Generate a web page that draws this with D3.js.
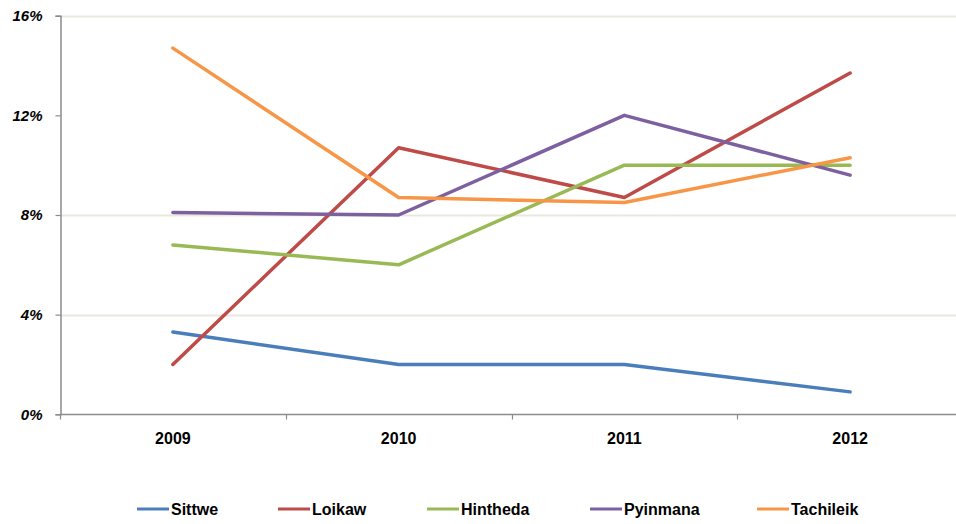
<!DOCTYPE html>
<html>
<head>
<meta charset="utf-8">
<script src="https://cdn.jsdelivr.net/npm/d3@7/dist/d3.min.js"></script>
<style>
  html, body { margin: 0; padding: 0; background: #fff; }
  svg { display: block; }
  text { font-family: "Liberation Sans", Arial, sans-serif; font-weight: bold; fill: #000; }
</style>
</head>
<body>
<svg id="chart" width="956" height="524"></svg>
<script>
// Years on the category axis
const years = ["2009", "2010", "2011", "2012"];

// Share per city, in percent
const sittwe    = [3.3, 2.0, 2.0, 0.9];
const loikaw    = [2.0, 10.7, 8.7, 13.7];
const hintheda  = [6.8, 6.0, 10.0, 10.0];
const pyinmana  = [8.1, 8.0, 12.0, 9.6];
const tachileik = [14.7, 8.7, 8.5, 10.3];

const seriesNames = ["Sittwe", "Loikaw", "Hintheda", "Pyinmana", "Tachileik"];
const seriesValues = [sittwe, loikaw, hintheda, pyinmana, tachileik];
const seriesColors = ["#4A7EBB", "#BE4B48", "#98B954", "#7D60A0", "#F79646"];

// Value axis ticks and the ones that carry gridlines
const yTicks = [0, 4, 8, 12, 16];
const gridTicks = [4, 8, 16];

const svg = d3.select("#chart");
const plotLeft = 60, plotRight = 963, plotTop = 15.7, plotBottom = 414.3;

const x = d3.scaleBand().domain(years).range([plotLeft, plotRight]);
const y = d3.scaleLinear().domain([0, 16]).range([plotBottom, plotTop]);

// Gridlines
svg.append("g")
  .selectAll("line")
  .data(gridTicks)
  .join("line")
  .attr("x1", plotLeft).attr("x2", 956)
  .attr("y1", d => Math.round(y(d)) + 0.5)
  .attr("y2", d => Math.round(y(d)) + 0.5)
  .attr("stroke", "#EAE7DC")
  .attr("stroke-width", 2);

// Y axis
const yAxis = svg.append("g")
  .attr("transform", `translate(${plotLeft + 0.5},0)`)
  .call(d3.axisLeft(y).tickValues(yTicks).tickSize(5).tickPadding(13).tickFormat(d => d + "%"));
yAxis.select(".domain").attr("stroke", "#8C8C8C").attr("stroke-width", 1.5);
yAxis.selectAll(".tick line").attr("stroke", "#8C8C8C").attr("stroke-width", 1.2);
yAxis.selectAll(".tick text").attr("font-size", 15).attr("font-style", "italic")
  .attr("font-family", "'Liberation Sans', Arial, sans-serif")
  .attr("font-weight", "bold").attr("fill", "#000");

// X axis with ticks on category boundaries
const xAxis = svg.append("g")
  .attr("transform", `translate(0,${Math.round(plotBottom) + 0.5})`);
xAxis.append("line")
  .attr("x1", plotLeft).attr("x2", 956).attr("y1", 0).attr("y2", 0)
  .attr("stroke", "#8C8C8C").attr("stroke-width", 1.5);
xAxis.selectAll("line.tick")
  .data(years)
  .join("line")
  .attr("class", "tick")
  .attr("x1", d => Math.round(x(d)) + 0.5).attr("x2", d => Math.round(x(d)) + 0.5)
  .attr("y1", 0).attr("y2", 5)
  .attr("stroke", "#8C8C8C").attr("stroke-width", 1.2);
xAxis.selectAll("text")
  .data(years)
  .join("text")
  .attr("x", d => x(d) + x.bandwidth() / 2)
  .attr("y", 29)
  .attr("text-anchor", "middle")
  .attr("font-size", 16)
  .text(d => d);

// Series lines
const line = d3.line()
  .x((d, i) => x(years[i]) + x.bandwidth() / 2)
  .y(d => y(d));

svg.append("g")
  .selectAll("path")
  .data(seriesValues)
  .join("path")
  .attr("d", d => line(d))
  .attr("fill", "none")
  .attr("stroke", (d, i) => seriesColors[i])
  .attr("stroke-width", 3.5)
  .attr("stroke-linejoin", "round")
  .attr("stroke-linecap", "round");

// Legend
const legendX = [137, 278, 427, 590, 757];
const legend = svg.append("g").attr("transform", "translate(0,509)");
const item = legend.selectAll("g")
  .data(seriesNames)
  .join("g")
  .attr("transform", (d, i) => `translate(${legendX[i]},0)`);
item.append("line")
  .attr("x1", 0).attr("x2", 32).attr("y1", 0).attr("y2", 0)
  .attr("stroke", (d, i) => seriesColors[i])
  .attr("stroke-width", 3);
item.append("text")
  .attr("x", 34).attr("y", 6)
  .attr("font-size", 16)
  .text(d => d);
</script>
</body>
</html>
